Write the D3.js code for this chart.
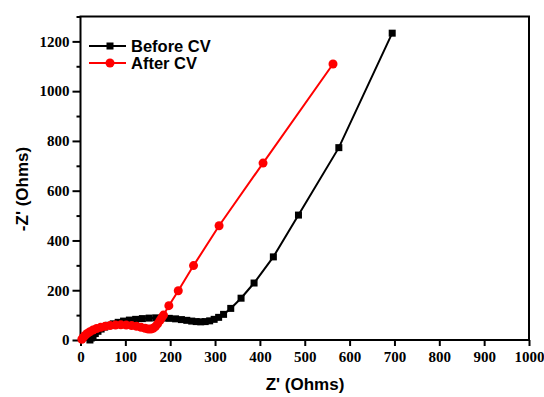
<!DOCTYPE html>
<html>
<head>
<meta charset="utf-8">
<script src="https://cdnjs.cloudflare.com/ajax/libs/d3/7.8.5/d3.min.js"></script>
<style>
  body { margin: 0; background: #fff; }
  .tick text { font-family: "Liberation Serif", serif; font-weight: bold; font-size: 15px; fill: #000; }
  .domain { display: none; }
  .tick line { stroke: #000; stroke-width: 2px; }
</style>
</head>
<body>
<svg id="chart"></svg>
<script>
// Nyquist data: [Z', -Z'']
var beforeCV = [
  [21,0],[24,8],[28,17],[33,26],[39,35],[46,44],[54,52],[63,59],[73,65],[84,71],
  [96,76],[109,80],[123,83],[138,86],[153,88],[168,89],[183,88],[198,87],[212,85],
  [225,82],[237,79],[248,76],[258,74],[268,73],[278,74],[288,77],[298,83],[308,91],
  [319,103],[335,127],[358,168],[387,229],[430,334],[486,502],[576,773],[695,1233]
];
var afterCV = [
  [3,3],[6,10],[10,18],[15,26],[21,33],[28,40],[36,46],[45,51],[55,55],[66,58],
  [78,60],[90,61],[102,60],[114,58],[125,55],[135,51],[144,47],[151,44],[157,44],
  [162,47],[167,54],[172,65],[177,78],[181,89],[185,100],[197,138],[218,198],
  [252,299],[309,459],[407,711],[563,1109]
];
var xTicks = [0,100,200,300,400,500,600,700,800,900,1000];
var yTicks = [0,200,400,600,800,1000,1200];
var yMinor = [100,300,500,700,900,1100,1300];
var seriesNames = ["Before CV", "After CV"];

var width = 544, height = 397;
var margin = {top: 16.5, right: 15, bottom: 57, left: 80.5};

var svg = d3.select("#chart").attr("width", width).attr("height", height);

var x = d3.scaleLinear().domain([0, 1000]).range([margin.left, width - margin.right]);
var y = d3.scaleLinear().domain([0, 1300]).range([height - margin.bottom, margin.top]);

// axes
svg.append("g").attr("transform", "translate(0," + y(0) + ")")
  .call(d3.axisBottom(x).tickValues(xTicks).tickSize(6).tickPadding(5).tickFormat(d3.format("d")));
svg.append("g").attr("transform", "translate(" + x(0) + ",0)")
  .call(d3.axisLeft(y).tickValues(yTicks).tickSize(8).tickPadding(3).tickFormat(d3.format("d")));
svg.append("g").attr("transform", "translate(" + x(0) + ",0)")
  .call(d3.axisLeft(y).tickValues(yMinor).tickSize(4).tickFormat(""));

// frame
svg.append("rect")
  .attr("x", x(0)).attr("y", y(1300))
  .attr("width", x(1000) - x(0)).attr("height", y(0) - y(1300))
  .attr("fill", "none").attr("stroke", "#000").attr("stroke-width", 2);

var line = d3.line().x(function(d) { return x(d[0]); }).y(function(d) { return y(d[1]); });

// Before CV (black squares)
svg.append("path").datum(beforeCV).attr("d", line)
  .attr("fill", "none").attr("stroke", "#000").attr("stroke-width", 2);
svg.append("g").selectAll("rect").data(beforeCV).enter().append("rect")
  .attr("x", function(d) { return x(d[0]) - 3.5; })
  .attr("y", function(d) { return y(d[1]) - 3.5; })
  .attr("width", 7).attr("height", 7).attr("fill", "#000");

// After CV (red circles)
svg.append("path").datum(afterCV).attr("d", line)
  .attr("fill", "none").attr("stroke", "#f00").attr("stroke-width", 2);
svg.append("g").selectAll("circle").data(afterCV).enter().append("circle")
  .attr("cx", function(d) { return x(d[0]); })
  .attr("cy", function(d) { return y(d[1]); })
  .attr("r", 4.5).attr("fill", "#f00");

// legend
var leg = svg.append("g");
var legY = [46, 63];
var legCol = ["#000", "#f00"];
seriesNames.forEach(function(name, i) {
  leg.append("line").attr("x1", 89).attr("x2", 126).attr("y1", legY[i]).attr("y2", legY[i])
    .attr("stroke", legCol[i]).attr("stroke-width", 2);
  if (i == 0) {
    leg.append("rect").attr("x", 106.5).attr("y", legY[i] - 3.5).attr("width", 7).attr("height", 7).attr("fill", "#000");
  } else {
    leg.append("circle").attr("cx", 110).attr("cy", legY[i]).attr("r", 4.5).attr("fill", "#f00");
  }
  leg.append("text").attr("x", 131).attr("y", legY[i] + 5.5)
    .attr("font-family", "Liberation Sans, Arial, sans-serif").attr("font-weight", "bold")
    .attr("font-size", "16.5px").text(name);
});

// axis titles
svg.append("text").attr("x", 305).attr("y", 390).attr("text-anchor", "middle")
  .attr("font-family", "Liberation Sans, Arial, sans-serif").attr("font-weight", "bold")
  .attr("font-size", "17px").text("Z' (Ohms)");
svg.append("text").attr("transform", "translate(28,189) rotate(-90)").attr("text-anchor", "middle")
  .attr("font-family", "Liberation Sans, Arial, sans-serif").attr("font-weight", "bold")
  .attr("font-size", "17px").text("-Z' (Ohms)");
</script>
</body>
</html>
